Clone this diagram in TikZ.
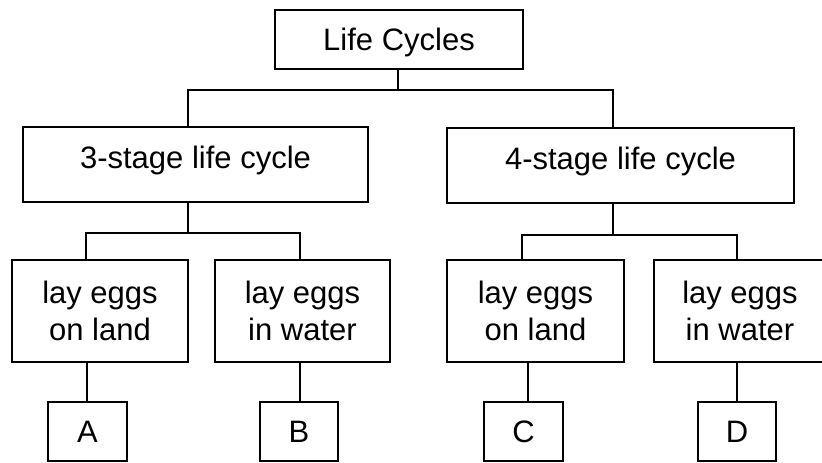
\documentclass[tikz,border=0pt]{standalone}
\usepackage{fontspec}
\setmainfont{Liberation Sans}
\begin{document}
\begin{tikzpicture}[x=1pt,y=-1pt,
  box/.style={draw, line width=1.8pt, inner sep=0pt, align=center,
    font=\fontsize{31}{37}\selectfont},
  wire/.style={line width=1.8pt}]
\useasboundingbox (0,0) rectangle (822,463);
\clip (0,0) rectangle (822,463);
% level 0
\node[box, minimum width=248pt, minimum height=59pt, text height=22pt, text depth=0pt] (top) at (399,39.5) {Life Cycles};
% level 1
\node[box, minimum width=345pt, minimum height=75pt, text height=22pt, text depth=15pt] (s3) at (195.5,164.5) {3-stage life cycle};
\node[box, minimum width=347pt, minimum height=75pt, text height=22pt, text depth=15pt] (s4) at (620.5,165.5) {4-stage life cycle};
% level 2
\node[box, minimum width=176pt, minimum height=102pt] (l1) at (100,311) {lay eggs\\on land};
\node[box, minimum width=175pt, minimum height=102pt] (w1) at (302.5,311) {lay eggs\\in water};
\node[box, minimum width=177pt, minimum height=102pt] (l2) at (535.5,311) {lay eggs\\on land};
\node[box, minimum width=172pt, minimum height=102pt] (w2) at (740,311) {lay eggs\\in water};
% level 3
\node[box, minimum width=79pt, minimum height=59pt, text height=22pt, text depth=0pt] (A) at (87.5,431.5) {A};
\node[box, minimum width=78pt, minimum height=59pt, text height=22pt, text depth=0pt] (B) at (299,431.5) {B};
\node[box, minimum width=79pt, minimum height=59pt, text height=22pt, text depth=0pt] (C) at (523.5,431.5) {C};
\node[box, minimum width=78pt, minimum height=59pt, text height=22pt, text depth=0pt] (D) at (737,431.5) {D};
% junctions
\coordinate (j0) at (398,90);
\coordinate (j1) at (188,233);
\coordinate (j2) at (613,235);
% connectors
\draw[wire] ([xshift=-1pt]top.south) -- (j0);
\draw[wire] ([xshift=-7.5pt]s3.north) |- (j0) -| ([xshift=-7.5pt]s4.north);
\draw[wire] ([xshift=-7.5pt]s3.south) -- (j1);
\draw[wire] ([xshift=-14pt]l1.north) |- (j1) -| ([xshift=-2.5pt]w1.north);
\draw[wire] ([xshift=-7.5pt]s4.south) -- (j2);
\draw[wire] ([xshift=-13.5pt]l2.north) |- (j2) -| ([xshift=-3pt]w2.north);
\draw[wire] ([xshift=-0.5pt]A.north) -- ([xshift=-0.5pt]A.north |- l1.south);
\draw[wire] ([xshift=1pt]B.north) -- ([xshift=1pt]B.north |- w1.south);
\draw[wire] ([xshift=4.5pt]C.north) -- ([xshift=4.5pt]C.north |- l2.south);
\draw[wire] (D.north) -- (D.north |- w2.south);
\end{tikzpicture}
\end{document}
